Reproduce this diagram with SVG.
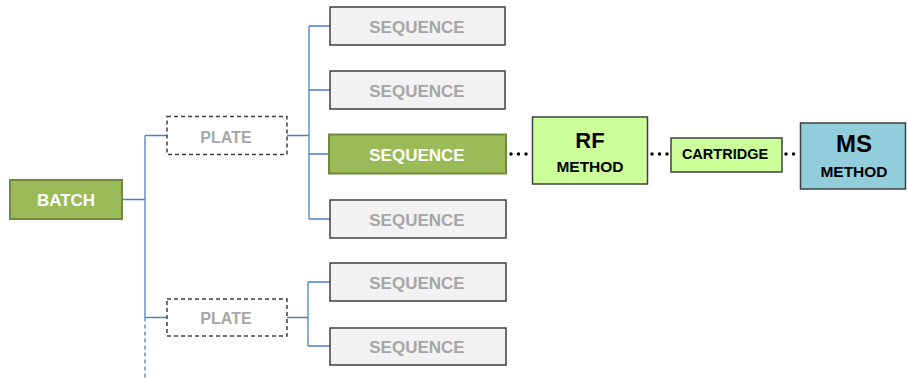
<svg xmlns="http://www.w3.org/2000/svg" width="907" height="378" viewBox="0 0 907 378">
<style>
text{font-family:"Liberation Sans",Arial,sans-serif;font-weight:bold;text-anchor:middle}
.g{fill:#9BBB59;stroke:#71893F;stroke-width:2}
.s{fill:#F2F2F2;stroke:#404040;stroke-width:1.5}
.p{fill:#FFFFFF;stroke:#404040;stroke-width:1.5;stroke-dasharray:4 3}
.lg{fill:#CCFF99;stroke:#404040;stroke-width:1.5}
.ms{fill:#92CDDC;stroke:#404040;stroke-width:1.5}
.wt{fill:#FFFFFF;font-size:17px}
.gt{fill:#A6A6A6;font-size:17px}
.bt{fill:#000000}
.ln{fill:none;stroke:#4F81BD;stroke-width:1.3}
.dt{fill:none;stroke:#000;stroke-width:3.5;stroke-linecap:round;stroke-dasharray:0 7.5}
</style>
<g id="connectors">
<path class="ln" d="M122 199.5H145M145 135.5V317.5M145 135.5H167M145 317.5H167"/>
<path class="ln" d="M145 317.5V378" stroke-dasharray="4 3"/>
<path class="ln" d="M287 135.5H309M309 26V219M309 26H330M309 90H330M309 154H328M309 219H330"/>
<path class="ln" d="M287 317.5H308M308 282V346M308 282H330M308 346H330"/>
<path class="dt" d="M511 154H529"/>
<path class="dt" d="M652 154H668"/>
<path class="dt" d="M786 154H797"/>
</g>
<g id="batch"><rect class="g" x="10" y="180" width="112" height="39"/><text class="wt" x="66" y="206">BATCH</text></g>
<g id="plate1"><rect class="p" x="167" y="116.5" width="120" height="38"/><text class="gt" x="226" y="143" style="font-size:16px">PLATE</text></g>
<g id="plate2"><rect class="p" x="167" y="299" width="120" height="37"/><text class="gt" x="226" y="324" style="font-size:16px">PLATE</text></g>
<g id="seq1"><rect class="s" x="330" y="7" width="175" height="38"/><text class="gt" x="417" y="32.5">SEQUENCE</text></g>
<g id="seq2"><rect class="s" x="330" y="71" width="175" height="38"/><text class="gt" x="417" y="96.5">SEQUENCE</text></g>
<g id="seq3"><rect class="g" x="329" y="134.5" width="177" height="39"/><text class="wt" x="417" y="160.5">SEQUENCE</text></g>
<g id="seq4"><rect class="s" x="330" y="200" width="176" height="38"/><text class="gt" x="417" y="225.5">SEQUENCE</text></g>
<g id="seq5"><rect class="s" x="330" y="263" width="176" height="38"/><text class="gt" x="417" y="288.5">SEQUENCE</text></g>
<g id="seq6"><rect class="s" x="330" y="328" width="176" height="37"/><text class="gt" x="417" y="353">SEQUENCE</text></g>
<g id="rf"><rect class="lg" x="532.5" y="117" width="115" height="67"/><text class="bt" x="590" y="148" style="font-size:22px">RF</text><text class="bt" x="590" y="172" style="font-size:15.5px">METHOD</text></g>
<g id="cartridge"><rect class="lg" x="671" y="138" width="111" height="34"/><text class="bt" x="725" y="159" style="font-size:14.5px">CARTRIDGE</text></g>
<g id="ms"><rect class="ms" x="800.5" y="123" width="105" height="66"/><text class="bt" x="854" y="152" style="font-size:24px">MS</text><text class="bt" x="854" y="177" style="font-size:15.5px">METHOD</text></g>
</svg>
